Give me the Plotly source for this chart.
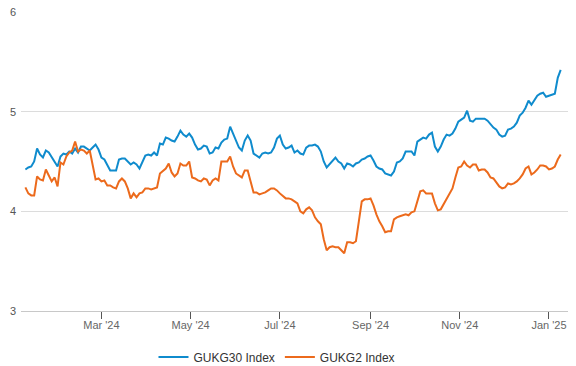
import pandas as pd
import plotly.graph_objects as go

start_date = "2024-01-09"
n_points = 184

gukg30 = [
    4.42, 4.44, 4.45, 4.50, 4.63, 4.57, 4.54, 4.61, 4.59, 4.54,
    4.49, 4.45, 4.55, 4.58, 4.57, 4.60, 4.58, 4.63, 4.59, 4.65,
    4.65, 4.63, 4.61, 4.64, 4.67, 4.62, 4.54, 4.52, 4.47, 4.41,
    4.41, 4.41, 4.52, 4.53, 4.53, 4.50, 4.47, 4.49, 4.47, 4.43,
    4.49, 4.56, 4.57, 4.56, 4.59, 4.56, 4.68, 4.67, 4.74, 4.73,
    4.71, 4.70, 4.75, 4.81, 4.77, 4.75, 4.78, 4.74, 4.67, 4.62,
    4.63, 4.66, 4.65, 4.58, 4.59, 4.64, 4.63, 4.69, 4.72, 4.73,
    4.85, 4.78, 4.72, 4.64, 4.61, 4.71, 4.76, 4.71, 4.58, 4.56,
    4.54, 4.58, 4.59, 4.58, 4.59, 4.64, 4.73, 4.76, 4.67, 4.63,
    4.64, 4.66, 4.59, 4.61, 4.58, 4.57, 4.64, 4.66, 4.66, 4.67,
    4.65, 4.60, 4.50, 4.44, 4.47, 4.51, 4.54, 4.50, 4.48, 4.43,
    4.48, 4.47, 4.45, 4.48, 4.49, 4.52, 4.53, 4.55, 4.56, 4.51,
    4.45, 4.43, 4.42, 4.38, 4.37, 4.36, 4.40, 4.49, 4.50, 4.53,
    4.60, 4.60, 4.60, 4.56, 4.70, 4.72, 4.74, 4.73, 4.77, 4.79,
    4.65, 4.60, 4.65, 4.72, 4.77, 4.76, 4.78, 4.83, 4.90, 4.92,
    4.94, 5.01, 4.91, 4.90, 4.93, 4.93, 4.93, 4.93, 4.91, 4.87,
    4.84, 4.82, 4.77, 4.75, 4.76, 4.82, 4.83, 4.85, 4.89, 4.96,
    4.99, 5.04, 5.11, 5.07, 5.12, 5.16, 5.18, 5.19, 5.15, 5.16,
    5.17, 5.18, 5.34, 5.42,
]

gukg2 = [
    4.24, 4.18, 4.16, 4.16, 4.35, 4.32, 4.31, 4.42, 4.36, 4.30,
    4.34, 4.25, 4.49, 4.47, 4.55, 4.59, 4.61, 4.70, 4.60, 4.62,
    4.61, 4.58, 4.61, 4.45, 4.32, 4.33, 4.30, 4.31, 4.26, 4.26,
    4.24, 4.23, 4.30, 4.33, 4.30, 4.23, 4.13, 4.18, 4.14, 4.18,
    4.19, 4.23, 4.23, 4.22, 4.23, 4.24, 4.38, 4.41, 4.43, 4.48,
    4.39, 4.35, 4.38, 4.48, 4.46, 4.46, 4.50, 4.34, 4.33, 4.31,
    4.30, 4.33, 4.32, 4.26, 4.31, 4.33, 4.31, 4.50, 4.50, 4.50,
    4.55, 4.45, 4.38, 4.36, 4.34, 4.41, 4.41, 4.30, 4.19, 4.19,
    4.17, 4.18, 4.19, 4.21, 4.23, 4.23, 4.21, 4.18, 4.15, 4.13,
    4.13, 4.12, 4.10, 4.08, 4.00, 3.98, 4.02, 4.04, 4.01, 3.94,
    3.90, 3.87, 3.72, 3.61, 3.64, 3.65, 3.64, 3.64, 3.61, 3.58,
    3.69, 3.69, 3.68, 3.70, 3.90, 4.10, 4.12, 4.12, 4.13, 4.06,
    3.97, 3.90, 3.85, 3.79, 3.80, 3.80, 3.92, 3.94, 3.95, 3.96,
    3.97, 3.96, 3.99, 4.00, 4.10, 4.20, 4.21, 4.18, 4.18, 4.18,
    4.08, 4.01, 4.02, 4.07, 4.12, 4.18, 4.23, 4.34, 4.44, 4.45,
    4.50, 4.46, 4.44, 4.47, 4.47, 4.41, 4.42, 4.42, 4.39, 4.34,
    4.33, 4.29, 4.25, 4.23, 4.24, 4.28, 4.27, 4.28, 4.30, 4.33,
    4.37, 4.43, 4.45, 4.37, 4.39, 4.42, 4.46, 4.46, 4.45, 4.42,
    4.43, 4.45, 4.52, 4.57,
]

series_names = ["GUKG30 Index", "GUKG2 Index"]
series_colors = ["#0f8bcd", "#ec6a1c"]
y_ticks = [3, 4, 5, 6]

dates = pd.date_range(start_date, periods=n_points, freq="2D")

fig = go.Figure()
for name, vals, col in zip(series_names, [gukg30, gukg2], series_colors):
    fig.add_trace(go.Scatter(
        x=dates, y=vals, mode="lines", name=name,
        line=dict(color=col, width=2),
    ))

fig.update_layout(
    width=576, height=366,
    margin=dict(l=21, r=8, t=12, b=55, autoexpand=False),
    paper_bgcolor="white", plot_bgcolor="white",
    font=dict(family="Arial, Liberation Sans, sans-serif", size=11, color="#555555"),
    showlegend=True,
    legend=dict(
        orientation="h", x=0.468, xanchor="center", y=-0.105, yanchor="top",
        font=dict(size=12, color="#333333"),
    ),
    xaxis=dict(
        range=["2024-01-06", "2025-01-14"],
        tick0="2024-03-01", dtick="M2", tickformat="%b '%y",
        ticks="outside", ticklen=7, tickcolor="#555555", tickwidth=1,
        showgrid=False, showline=True, linecolor="#c8c8c8", linewidth=1,
        tickfont=dict(size=11, color="#666666"),
        zeroline=False, automargin=False, ticklabelstandoff=-3,
    ),
    yaxis=dict(
        range=[3, 6], tickvals=y_ticks,
        showgrid=True, gridcolor="#dcdcdc", gridwidth=1,
        zeroline=False, showline=False,
        tickfont=dict(size=11, color="#555555"),
        automargin=False, ticklabelstandoff=4,
    ),
)

fig.write_html(
    "out.html",
    config={"displayModeBar": False},
    post_script="document.body.style.margin='0';document.body.style.padding='0';",
)
